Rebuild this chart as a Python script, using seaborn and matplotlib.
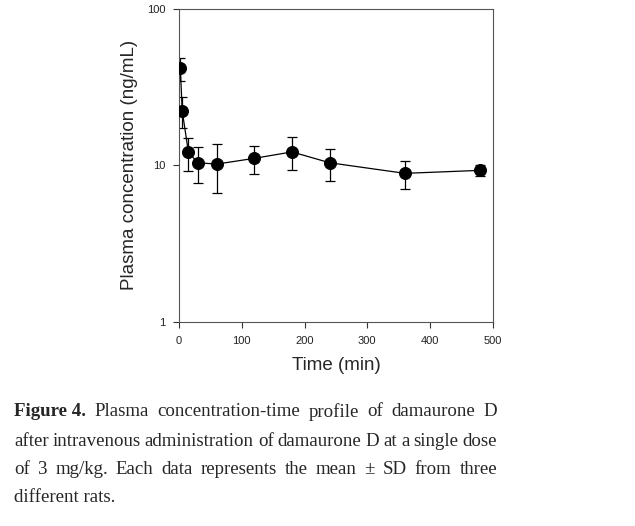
import numpy as np
import pandas as pd
import matplotlib
matplotlib.use('Agg')
import matplotlib.pyplot as plt
import seaborn as sns

# data
time_min = [2, 5, 15, 30, 60, 120, 180, 240, 360, 480]
conc_mean = [41.8, 22.3, 12.1, 10.4, 10.2, 11.1, 12.2, 10.4, 8.9, 9.3]
conc_sd = [7.0, 5.0, 2.9, 2.7, 3.5, 2.3, 2.9, 2.4, 1.8, 0.7]

caption_lines = [
    "Plasma concentration-time profile of damaurone D",
    "after intravenous administration of damaurone D at a single dose",
    "of 3 mg/kg. Each data represents the mean \u00b1 SD from three",
    "different rats.",
]

df = pd.DataFrame({'time': time_min, 'conc': conc_mean, 'sd': conc_sd})

sns.set_style('ticks')
plt.rcParams['font.family'] = ['Liberation Sans', 'DejaVu Sans']

fig = plt.figure(figsize=(6.35, 5.26), dpi=100)
ax = fig.add_axes([0.282, 0.388, 0.494, 0.595])

# error bars first, then line with markers
ax.errorbar(df['time'], df['conc'], yerr=df['sd'], fmt='none', ecolor='black',
            elinewidth=0.9, capsize=3.3, capthick=0.9, zorder=2)
sns.lineplot(data=df, x='time', y='conc', ax=ax, color='black', linewidth=0.9,
             marker='o', markersize=8.6, markeredgecolor='black', zorder=3)

ax.set_yscale('log')
ax.set_xlim(0, 500)
ax.set_ylim(1, 100)
ax.set_xticks([0, 100, 200, 300, 400, 500])
ax.set_yticks([1, 10, 100])
ax.set_yticklabels(['1', '10', '100'])
ax.yaxis.set_minor_locator(matplotlib.ticker.NullLocator())
ax.tick_params(axis='both', labelsize=8, length=4, width=0.8, color='#333333',
               labelcolor='#222222', pad=6)
for s in ax.spines.values():
    s.set_linewidth(0.8)
    s.set_color('#555555')
ax.set_xlabel('Time (min)', fontsize=13.5, labelpad=8)
ax.set_ylabel('Plasma concentration (ng/mL)', fontsize=13.5, labelpad=6)

# caption, justified lines
fig.canvas.draw()
renderer = fig.canvas.get_renderer()
left_px, right_px = 14, 497
line_y = [412, 441, 470, 497]
serif = 'Liberation Serif'
fs = 13.6
for i, line in enumerate(caption_lines):
    y = 1 - line_y[i] / 526
    words = line.split(' ')
    start = left_px
    if i == 0:
        t = fig.text(left_px / 635, y, 'Figure 4.', fontsize=fs, family=serif,
                     fontweight='bold', va='center', ha='left')
        w = t.get_window_extent(renderer).width
        start = left_px + w
        words = [''] + words
    if i == len(caption_lines) - 1:
        fig.text(left_px / 635, y, line, fontsize=fs, family=serif, va='center', ha='left')
        continue
    texts = []
    widths = []
    for wd in words:
        if wd == '':
            texts.append(None)
            widths.append(0)
            continue
        t = fig.text(0, y, wd, fontsize=fs, family=serif, va='center', ha='left')
        texts.append(t)
        widths.append(t.get_window_extent(renderer).width)
    gaps = len(words) - 1
    gap = (right_px - start - sum(widths)) / gaps
    x = start
    for t, w in zip(texts, widths):
        if t is not None:
            t.set_x(x / 635)
        x += w + gap

fig.savefig('out.png', dpi=100)
